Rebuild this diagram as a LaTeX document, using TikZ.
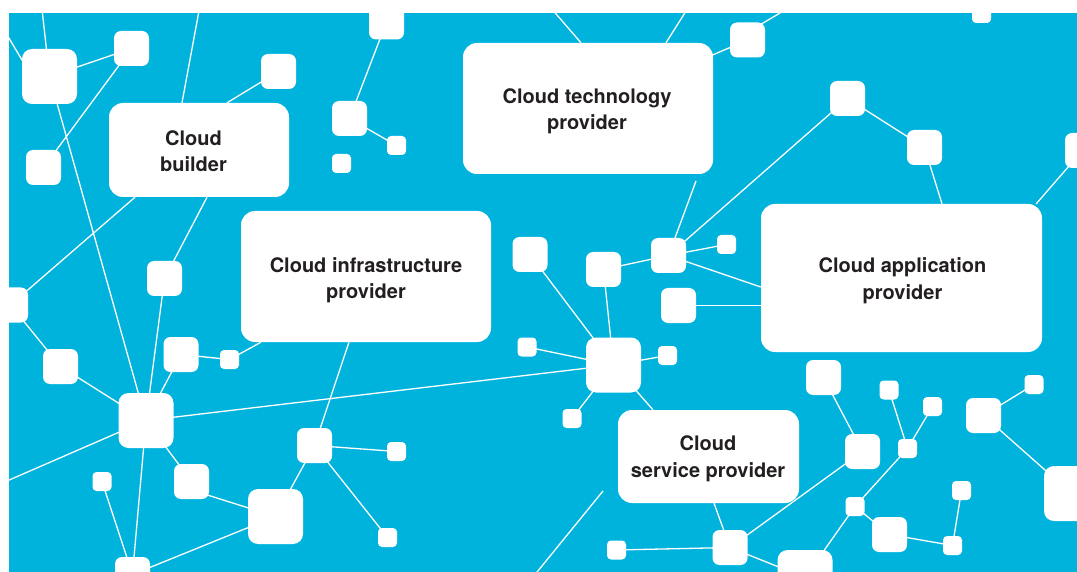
\documentclass[tikz,border=0pt]{standalone}
\usepackage{fontspec}
\setmainfont{TeX Gyre Heros}
\usetikzlibrary{calc}
\usetikzlibrary{backgrounds}
\definecolor{cloudblue}{RGB}{0,179,221}
\definecolor{inkdark}{RGB}{35,31,32}

\begin{document}
\begin{tikzpicture}[x=1pt, y=-1pt,
        sq/.style={fill=white, rounded corners=7pt, minimum size=35pt, inner sep=0pt},
        bigsq/.style={sq, rounded corners=10pt, minimum size=55pt},
        smsq/.style={sq, rounded corners=4pt, minimum size=19pt},
        cbox/.style={fill=white, rounded corners=14pt, inner sep=0pt},
        txt/.style={text=inkdark, inner sep=0pt, align=center, font=\fontsize{20}{26.5}\selectfont\bfseries},
        link/.style={white, line width=1.3pt}]
        \useasboundingbox (0,0) rectangle (1077,572);

        % Role boxes
        \node[cbox, minimum width=180pt, minimum height=94pt] (builder) at (199,150) {};
        \node[cbox, minimum width=250pt, minimum height=131pt] (tech) at (588,108.5) {};
        \node[cbox, minimum width=250pt, minimum height=131pt] (infra) at (366,276.5) {};
        \node[cbox, minimum width=281pt, minimum height=148pt] (app) at (901.5,278) {};
        \node[cbox, minimum width=181pt, minimum height=93pt] (service) at (708.5,456.5) {};

        % Role names
        \node[txt] (buildertext) at ($(builder.center)+(-5.5,1)$) {Cloud\\builder};
        \node[txt] (techtext) at ($(tech.center)+(-1,3)$) {Cloud technology\\provider};
        \node[txt] (infratext) at ($(infra.center)+(0,3.5)$) {Cloud infrastructure\\provider};
        \node[txt] (apptext) at ($(app.center)+(1,2.5)$) {Cloud application\\provider};
        \node[txt] (servicetext) at ($(service.center)+(-0.5,2.5)$) {Cloud\\service provider};

        % Left part
        \node[bigsq] (A) at (49.5,76.5) {};
        \node[sq] (B) at (131.5,48.5) {};
        \node[sq] (C) at (43.5,167.5) {};
        \node[sq] (D) at (278.5,71.5) {};
        \node[sq] (E) at (349.5,118.5) {};
        \node[smsq] (F) at (341.5,163.5) {};
        \node[smsq] (G) at (396.5,145.5) {};
        \node[sq] (H) at (164.5,278.5) {};
        \node[sq] (I) at (10.5,305) {};
        \node[sq] (J) at (60.5,366.5) {};
        \node[bigsq] (K) at (146,420.5) {};
        \node[sq] (L) at (181,354.5) {};
        \node[smsq] (M) at (229.5,359.5) {};
        \node[sq] (N) at (314.5,445.5) {};
        \node[smsq] (O) at (396.5,451.5) {};
        \node[smsq] (P) at (387.5,537.5) {};
        \node[sq] (Q) at (191.5,481.5) {};
        \node[bigsq] (R) at (275.5,516.5) {};
        \node[smsq] (S) at (102,481.5) {};
        \node[sq] (T) at (132.5,574.5) {};
        \node[sq] (U) at (386.5,22) {};

        % Middle part
        \node[sq] (V) at (747.5,40) {};
        \node[sq] (W) at (668.5,255.5) {};
        \node[sq] (X) at (530,254.5) {};
        \node[sq] (Y) at (603.5,269.5) {};
        \node[smsq] (AA) at (726.5,244.5) {};
        \node[sq] (AE) at (678.5,305.5) {};
        \node[bigsq] (BB) at (613.5,365) {};
        \node[smsq] (CC) at (527,347) {};
        \node[smsq] (DD) at (667.5,355.5) {};
        \node[smsq] (EE) at (572,418.5) {};
        \node[smsq] (FF) at (616.5,550) {};
        \node[sq] (GG) at (730,547.5) {};

        % Right part
        \node[sq] (Z) at (847.5,98.5) {};
        \node[sq] (AB) at (924.5,147.5) {};
        \node[sq] (AC) at (1082.5,150.5) {};
        \node[smsq] (AD) at (981.5,13.5) {};
        \node[bigsq] (HH) at (805,577.5) {};
        \node[sq] (II) at (862.5,451.5) {};
        \node[sq] (JJ) at (823.5,377.5) {};
        \node[smsq] (KK) at (889,390) {};
        \node[smsq] (LL) at (932.5,406.5) {};
        \node[smsq] (MM) at (907.5,448.5) {};
        \node[smsq] (NN) at (855,506.5) {};
        \node[sq] (OO) at (889.5,534.5) {};
        \node[smsq] (PP) at (952.5,545.5) {};
        \node[smsq] (QQ) at (961.5,490.5) {};
        \node[sq] (RR) at (983.5,415.5) {};
        \node[smsq] (SS) at (1034,384.5) {};
        \node[bigsq] (TT) at (1071.5,493.5) {};

        % Loose ends at the border
        \coordinate (topa) at (41,0);
        \coordinate (lefta) at (0,23);
        \coordinate (topb) at (201,0);
        \coordinate (leftb) at (0,484);
        \coordinate (topc) at (544,0);
        \coordinate (topd) at (693,0);
        \coordinate (tope) at (802,0);
        \coordinate (techgap) at (696,181);
        \coordinate (freea) at (603,491);
        \coordinate (freeb) at (533,577);

        \begin{scope}[on background layer]
            % Blue field with white margin
            \fill[white] (0,0) rectangle (1077,572);
            \fill[cloudblue] (9,13) rectangle (1077,572);

            % Left part
            \draw[link] (topa) -- (A.center);
            \draw[link] (lefta) -- ($(A.center)+(-19.5,-3)$);
            \draw[link] (A.center) -- (B.center);
            \draw[link] (A.center) -- (K.center);
            \draw[link] (B.center) -- (C.center);
            \draw[link] (topb) -- ($(builder.north)+(-17,0)$);
            \draw[link] (D.center) -- ($(builder.north)+(28,0)$);
            \draw[link] ($(builder.south)+(-64,0)$) -- (I.center);
            \draw[link] ($(builder.south)+(8,0)$) -- (H.center);
            \draw[link] (U.center) -- (E.center);
            \draw[link] (E.center) -- (G.center);
            \draw[link] (I.center) -- (J.center);
            \draw[link] (J.center) -- (K.center);
            \draw[link] (H.center) -- (K.center);
            \draw[link] (L.center) -- (K.center);
            \draw[link] (L.center) -- (M.center);
            \draw[link] (M.center) -- ($(infra.south)+(-105,0)$);
            \draw[link] (leftb) -- (K.center);
            \draw[link] ($(infra.south)+(-17,0)$) -- (N.center);
            \draw[link] (N.center) -- (O.center);
            \draw[link] (N.center) -- (P.center);
            \draw[link] (K.center) -- (Q.center);
            \draw[link] ($(Q.center)+(0,8.5)$) -- (R.center);
            \draw[link] (N.center) -- (R.center);
            \draw[link] (S.center) -- (T.center);
            \draw[link] (K.center) -- (T.center);
            \draw[link] (R.center) -- (T.center);

            % Middle part
            \draw[link] (K.center) -- (BB.center);
            \draw[link] (topc) -- ($(tech.north)+(-7,0)$);
            \draw[link] (topd) -- ($(tech.north)+(78,0)$);
            \draw[link] (V.center) -- (tech.center);
            \draw[link] (tope) -- ($(V.center)+(2,-9)$);
            \draw[link] (techgap) -- (W.center);
            \draw[link] (Y.center) -- (W.center);
            \draw[link] (X.center) -- (BB.center);
            \draw[link] (Y.center) -- (BB.center);
            \draw[link] (W.center) -- (AA.center);
            \draw[link] (W.center) -- ($(app.west)+(0,9)$);
            \draw[link] (AE.center) -- (AE.center -| app.west);
            \draw[link] (CC.center) -- (BB.center);
            \draw[link] (BB.center) -- (DD.center);
            \draw[link] (BB.center) -- (EE.center);
            \draw[link] (BB.center) -- ($(service.north)+(-55.5,0)$);
            \draw[link] (freea) -- (freeb);
            \draw[link] (FF.center) -- (GG.center);
            \draw[link] ($(service.south)+(5.5,0)$) -- (GG.center);

            % Right part
            \draw[link] (W.center) -- (Z.center);
            \draw[link] (Z.center) -- (AB.center);
            \draw[link] (AB.center) -- ($(app.north)+(40.5,0)$);
            \draw[link] (AC.center) -- ($(app.north east)+(-6,0)$);
            \draw[link] (GG.center) -- (HH.center);
            \draw[link] (GG.center) -- (II.center);
            \draw[link] (JJ.center) -- (II.center);
            \draw[link] (KK.center) -- (MM.center);
            \draw[link] (LL.center) -- (MM.center);
            \draw[link] (MM.center) -- (NN.center);
            \draw[link] (NN.center) -- (HH.center);
            \draw[link] (NN.center) -- (OO.center);
            \draw[link] (OO.center) -- (PP.center);
            \draw[link] (QQ.center) -- (PP.center);
            \draw[link] (RR.center) -- (SS.center);
            \draw[link] (RR.center) -- (TT.center);
        \end{scope}
    \end{tikzpicture}
\end{document}
